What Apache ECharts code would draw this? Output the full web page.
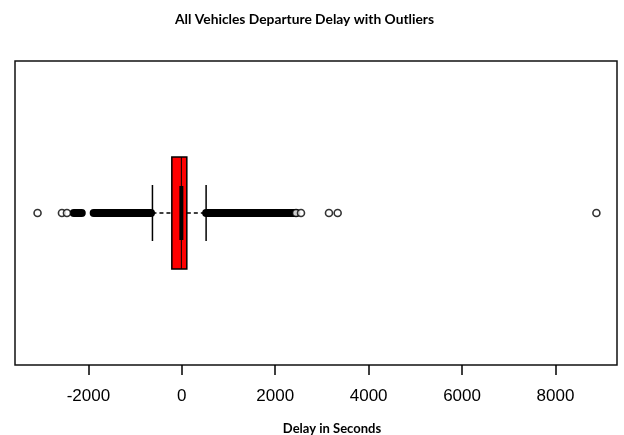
<!DOCTYPE html>
<html>
<head>
<meta charset="utf-8">
<script src="https://cdn.jsdelivr.net/npm/echarts@6/dist/echarts.min.js"></script>
<style>
  html, body { margin: 0; padding: 0; background: #fff; }
  #main { width: 624px; height: 435px; }
</style>
</head>
<body>
<div id="main"></div>
<script>
// axis ticks shown under the box
const xTicks = [-2000, 0, 2000, 4000, 6000, 8000];
// lower whisker, Q1, median, Q3, upper whisker (seconds)
const boxStats = [-629, -214, -10, 107, 520];
// stretches where the outlier circles overlap into a solid black band
const denseRanges = [[-2314, -2143], [-1887, -660], [520, 2450]];
// single outliers that stay visible as open circles
const outliers = [-3089, -2567, -2460, 2446, 2552, 3151, 3337, 8877];

const chart = echarts.init(document.getElementById('main'), null, { renderer: 'canvas' });

var option = {
  animation: false,
  backgroundColor: '#fff',
  title: {
    text: 'All Vehicles Departure Delay with Outliers',
    left: 170,
    top: 8,
    textStyle: { fontFamily: 'Lato', fontWeight: 'bold', fontSize: 13.8, color: '#000' }
  },
  grid: {
    left: 15, right: 7, top: 61, bottom: 70,
    outerBoundsMode: 'none',
    containLabel: false,
    show: true,
    borderColor: '#111',
    borderWidth: 1.5,
    backgroundColor: 'transparent'
  },
  xAxis: {
    type: 'value',
    min: -3572,
    max: 9318,
    splitLine: { show: false },
    axisLine: { show: false },
    axisTick: {
      show: true,
      customValues: xTicks,
      length: 10,
      lineStyle: { color: '#000', width: 1.5 }
    },
    axisLabel: {
      customValues: xTicks,
      formatter: function (v) { return String(v); },
      fontFamily: 'Liberation Sans',
      fontSize: 17,
      color: '#000',
      margin: 23
    },
    name: 'Delay in Seconds',
    nameLocation: 'middle',
    nameGap: 57,
    nameTextStyle: {
      fontFamily: 'Lato', fontWeight: 'bold', fontSize: 13, color: '#000',
      padding: [0, 0, 0, 32]
    }
  },
  yAxis: { type: 'value', min: 0, max: 1, show: false },
  series: [
    {
      // dense outlier bands
      type: 'custom',
      data: denseRanges.map(r => [r[0], r[1], 0.5]),
      encode: { x: [0, 1], y: 2 },
      renderItem: function (params, api) {
        var a = api.coord([api.value(0), api.value(2)]);
        var b = api.coord([api.value(1), api.value(2)]);
        var h = 8;
        return {
          type: 'rect',
          shape: { x: a[0] - h / 2, y: a[1] - h / 2, width: b[0] - a[0] + h, height: h, r: h / 2 },
          style: { fill: '#000' }
        };
      },
      z: 3
    },
    {
      // box and whiskers
      type: 'custom',
      data: [boxStats.concat([0.5])],
      encode: { x: [0, 1, 2, 3, 4], y: 5 },
      renderItem: function (params, api) {
        var yc = api.value(5);
        var wl = api.coord([api.value(0), yc]);
        var q1 = api.coord([api.value(1), yc]);
        var md = api.coord([api.value(2), yc]);
        var q3 = api.coord([api.value(3), yc]);
        var wh = api.coord([api.value(4), yc]);
        var cy = wl[1];
        var bh = 56, ch = 28, mh = 27;
        var dash = { stroke: '#000', lineWidth: 1.5, lineDash: [4, 3] };
        var solid = { stroke: '#000', lineWidth: 1.5 };
        return {
          type: 'group',
          children: [
            { type: 'line', shape: { x1: wl[0], y1: cy, x2: q1[0], y2: cy }, style: dash },
            { type: 'line', shape: { x1: q3[0], y1: cy, x2: wh[0], y2: cy }, style: dash },
            { type: 'line', shape: { x1: wl[0], y1: cy - ch, x2: wl[0], y2: cy + ch }, style: solid },
            { type: 'line', shape: { x1: wh[0], y1: cy - ch, x2: wh[0], y2: cy + ch }, style: solid },
            {
              type: 'rect',
              shape: { x: q1[0], y: cy - bh, width: q3[0] - q1[0], height: bh * 2 },
              style: { fill: '#f00', stroke: '#000', lineWidth: 1.5 }
            },
            { type: 'line', shape: { x1: md[0], y1: cy - bh, x2: md[0], y2: cy + bh }, style: { stroke: '#000', lineWidth: 1 } },
            { type: 'line', shape: { x1: md[0], y1: cy - mh, x2: md[0], y2: cy + mh }, style: { stroke: '#000', lineWidth: 4 } }
          ]
        };
      },
      z: 4
    },
    {
      type: 'scatter',
      data: outliers.map(v => [v, 0.5]),
      symbol: 'circle',
      symbolSize: 7,
      itemStyle: { color: '#fff', borderColor: '#000', borderWidth: 1.6 },
      z: 5
    }
  ]
};

chart.setOption(option);
</script>
</body>
</html>
